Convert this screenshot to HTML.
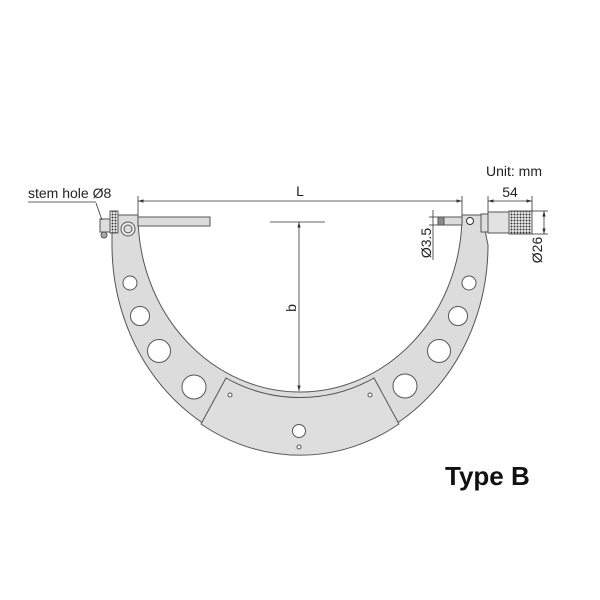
<!DOCTYPE html>
<html><head><style>
body{margin:0;background:#fff;}
svg{display:block;}
text{font-family:"Liberation Sans",Arial,sans-serif;fill:#222;}
</style></head><body>
<svg width="600" height="600" viewBox="0 0 600 600" xmlns="http://www.w3.org/2000/svg">
<defs>
<pattern id="kn" width="3" height="3" patternUnits="userSpaceOnUse">
<rect width="3" height="3" fill="#eee"/><circle cx="1.5" cy="1.5" r="1" fill="#333"/>
</pattern>
<marker id="ar" viewBox="0 0 10 10" refX="10" refY="5" markerWidth="7" markerHeight="7" orient="auto-start-reverse"><path d="M0,2 L10,5 L0,8z" fill="#333"/></marker>
</defs>
<path d="M112,215 H138 A162,177 0 0 0 462,215 H482 L488,245 A188,208 0 0 1 112,245 Z" fill="#dcdcdc" stroke="#555" stroke-width="1"/>
<path d="M226,378 L201,424 A188,208 0 0 0 399,424 L374,378 A162,177 0 0 1 226,378 Z" fill="#dedede" stroke="#555" stroke-width="1"/>
<g fill="#fff" stroke="#555" stroke-width="1">
<circle cx="130" cy="283" r="7"/><circle cx="140" cy="316" r="9.5"/><circle cx="159" cy="351" r="11.5"/><circle cx="194" cy="387" r="12"/>
<circle cx="469" cy="283" r="7"/><circle cx="458" cy="316" r="9.5"/><circle cx="439" cy="351" r="11.5"/><circle cx="405" cy="386" r="12"/>
<circle cx="230" cy="395" r="2"/><circle cx="370" cy="395" r="2"/><circle cx="299" cy="431" r="6.5"/><circle cx="299" cy="447" r="2"/>
</g>
<rect x="138" y="217" width="72" height="9" fill="#dcdcdc" stroke="#555"/>
<rect x="100" y="219" width="11" height="13" fill="#ddd" stroke="#555"/>
<circle cx="104" cy="235" r="3" fill="#aaa" stroke="#555"/>
<rect x="110" y="211" width="8" height="22" fill="url(#kn)" stroke="#555"/>
<circle cx="128" cy="229" r="7" fill="#eee" stroke="#555"/><circle cx="128" cy="229" r="4" fill="#ddd" stroke="#555"/>
<rect x="438" y="217" width="24" height="8" fill="#dcdcdc" stroke="#555"/>
<rect x="438" y="217" width="6" height="8" fill="#888" stroke="#555"/>
<circle cx="470" cy="221" r="3.5" fill="#fff" stroke="#333"/>
<rect x="481" y="214" width="7" height="18" fill="#ddd" stroke="#555"/>
<rect x="488" y="212" width="21" height="21" fill="#e2e2e2" stroke="#555"/>
<rect x="509" y="211" width="23" height="23" fill="url(#kn)" stroke="#555"/>
<g stroke="#333" stroke-width="0.8" fill="none">
<line x1="138" y1="196" x2="138" y2="215"/><line x1="462" y1="196" x2="462" y2="215"/>
<line x1="138" y1="201" x2="462" y2="201" marker-start="url(#ar)" marker-end="url(#ar)"/>
<line x1="270" y1="222" x2="325" y2="222"/>
<line x1="299" y1="222" x2="299" y2="391" marker-start="url(#ar)" marker-end="url(#ar)"/>
<line x1="488" y1="196" x2="488" y2="212"/><line x1="532" y1="196" x2="532" y2="211"/>
<line x1="488" y1="201" x2="532" y2="201" marker-start="url(#ar)" marker-end="url(#ar)"/>
<line x1="532" y1="211" x2="548" y2="211"/><line x1="532" y1="234" x2="548" y2="234"/>
<line x1="544" y1="211" x2="544" y2="234" marker-start="url(#ar)" marker-end="url(#ar)"/>
<line x1="433" y1="210" x2="433" y2="260"/><line x1="429" y1="217" x2="438" y2="217"/><line x1="429" y1="225" x2="438" y2="225"/>
<line x1="96" y1="203" x2="102" y2="220"/>
<line x1="28" y1="202" x2="96" y2="202"/>
</g>
<text x="28" y="198" font-size="14">stem hole Ø8</text>
<text x="300" y="196" font-size="14" text-anchor="middle">L</text>
<text x="486" y="176" font-size="14">Unit: mm</text>
<text x="510" y="197" font-size="14" text-anchor="middle">54</text>
<text transform="translate(296,308) rotate(-90)" font-size="14" text-anchor="middle">b</text>
<text transform="translate(431,243) rotate(-90)" font-size="14" text-anchor="middle">Ø3.5</text>
<text transform="translate(542,250) rotate(-90)" font-size="14" text-anchor="middle">Ø26</text>
<text x="445" y="485" font-size="26" font-weight="bold" style="fill:#111">Type B</text>
</svg>
</body></html>
